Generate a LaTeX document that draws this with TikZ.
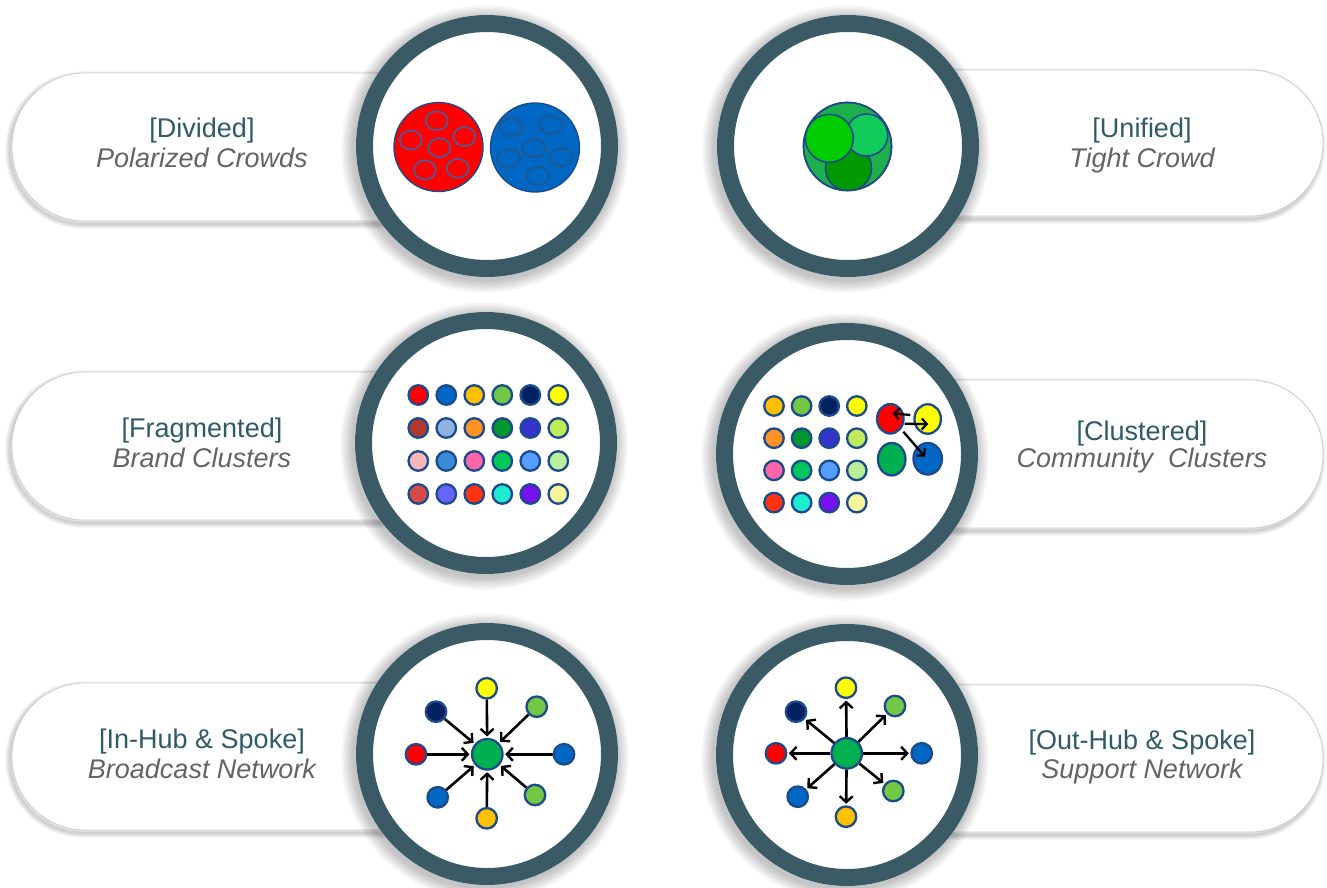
\documentclass[tikz,border=0pt]{standalone}
\usepackage{fontspec}
\setmainfont{Liberation Sans}
\usetikzlibrary{arrows.meta,shapes.geometric,calc}

% frame and text colours
\definecolor{ringclr}{RGB}{58,90,102}
\definecolor{titleclr}{RGB}{47,90,104}
\definecolor{subclr}{RGB}{100,100,100}
\definecolor{pillline}{RGB}{205,205,205}
\definecolor{dotline}{RGB}{28,74,138}
% dot colours
\definecolor{cRed}{HTML}{FF0000}
\definecolor{cBlue}{HTML}{0068C4}
\definecolor{cGold}{HTML}{FFC000}
\definecolor{cLime}{HTML}{70C844}
\definecolor{cNavy}{HTML}{002060}
\definecolor{cYel}{HTML}{FFFF00}
\definecolor{cBrick}{HTML}{B03A2E}
\definecolor{cSteel}{HTML}{8DB4E2}
\definecolor{cOrange}{HTML}{FF9326}
\definecolor{cDkGrn}{HTML}{009630}
\definecolor{cIndigo}{HTML}{3333CC}
\definecolor{cYgrn}{HTML}{C1EC5A}
\definecolor{cPinkL}{HTML}{F4B6B6}
\definecolor{cMidBlue}{HTML}{3A8BD8}
\definecolor{cHotPink}{HTML}{FF66AA}
\definecolor{cGreen}{HTML}{00C85A}
\definecolor{cSky}{HTML}{559DFF}
\definecolor{cPaleGrn}{HTML}{BBEE99}
\definecolor{cSalmon}{HTML}{D84A4A}
\definecolor{cPeri}{HTML}{6666FF}
\definecolor{cRedOr}{HTML}{FF3311}
\definecolor{cAqua}{HTML}{1EEBD0}
\definecolor{cViolet}{HTML}{7711EE}
\definecolor{cPaleYel}{HTML}{F5F599}
\definecolor{cHub}{HTML}{00B050}
\definecolor{gMid}{HTML}{1EAE4C}
\definecolor{gDark}{HTML}{009900}
\definecolor{gMint}{HTML}{11CC5A}
\definecolor{gBright}{HTML}{00CC00}
\definecolor{edgeRed}{RGB}{72,92,150}
\definecolor{edgeBlue}{RGB}{35,85,140}

\tikzset{
  title/.style={anchor=base, text=titleclr, font=\fontsize{27}{32}\selectfont},
  subtitle/.style={anchor=base, text=subclr, font=\fontsize{27}{32}\selectfont\itshape},
  dot/.style={circle, draw=dotline, line width=2.3pt, minimum size=19.5pt, inner sep=0pt, fill=#1},
  sat/.style={circle, draw=dotline, line width=2.3pt, minimum size=20.5pt, inner sep=0pt, fill=#1},
  hub/.style={circle, draw=dotline, line width=2.3pt, minimum size=30.5pt, inner sep=0pt, fill=cHub},
  blob/.style={ellipse, draw=dotline, line width=2.3pt, minimum width=26.5pt, minimum height=29.5pt, inner sep=0pt, fill=#1},
  crowd/.style={circle, draw=dotline, line width=1.4pt, minimum size=89pt, inner sep=0pt, fill=#1},
  arr/.style={-{Straight Barb[length=6pt,width=13pt,line width=2.4pt]}, line width=2.6pt, black, shorten >=1.5pt},
  smallarr/.style={-{Straight Barb[length=5pt,width=11pt,line width=2.2pt]}, line width=2.3pt, black},
}

% a rounded label band with a soft shadow
\newcommand\pill[4]{%
  \foreach \i in {1,...,6}
    \draw[black, opacity=0.032, line width={1.6pt*\i}, rounded corners=73pt]
      ($(#1,#2)+(-2,3)$) rectangle ($(#3,#4)+(-2,3)$);
  \filldraw[fill=white, draw=pillline, line width=0.8pt, rounded corners=73pt]
    (#1,#2) rectangle (#3,#4);
}
% a round frame with a soft shadow
\newcommand\frameat[1]{%
  \foreach \i in {1,...,10}
    \fill[black, opacity=0.022] ($(#1)+(-2,3)$) circle ({131+1.3*\i});
  \fill[white] (#1) circle (131);
  \draw[ringclr, line width=17pt] (#1) circle (122.5);
}

\begin{document}
\begin{tikzpicture}[x=1pt, y=-1pt]
\clip (0,0) rectangle (1327,888);
\fill[white] (0,0) rectangle (1327,888);

% label bands
\pill{12}{73}{480}{221}
\pill{850}{70}{1323}{216}
\pill{12}{372}{480}{520}
\pill{850}{380}{1323}{528}
\pill{12}{683}{480}{830}
\pill{850}{685}{1323}{832}

% frames
\coordinate (c1) at (487,146);
\coordinate (c2) at (848,146);
\coordinate (c3) at (486,443);
\coordinate (c4) at (847,454);
\coordinate (c5) at (487,754);
\coordinate (c6) at (847,755);
\foreach \c in {c1,c2,c3,c4,c5,c6} {\frameat{\c}}

% ---- Divided: two polarized crowds
\node[crowd=cRed] (redcrowd) at (438.5,147) {};
\node[crowd=cBlue] (bluecrowd) at (535,147.5) {};
\foreach \p in {(436.7,120.7),(410.7,140),(464.3,136.7),(439.3,147.7),(425,170),(457.7,168.3)}
  \draw[edgeRed, line width=1.7pt] \p ellipse (11 and 9.5);
\foreach \p in {(511,127.3),(551,125),(534,148.3),(509,158.3),(561,157.3),(537.7,176)}
  \draw[edgeBlue, line width=1.7pt] \p ellipse (11.5 and 9);

% ---- Unified: one tight crowd
\node[circle, minimum size=88pt, inner sep=0pt, fill=gMid, draw=dotline, line width=1.6pt] (tight) at (847.5,146.5) {};
\begin{scope}
  \clip (847.5,146.5) circle (44);
  \filldraw[fill=gDark, draw=dotline, line width=1.6pt] (848.5,168) circle (23);
  \filldraw[fill=gMint, draw=dotline, line width=1.6pt] (866.7,135) circle (21);
  \filldraw[fill=gBright, draw=dotline, line width=1.6pt] (829.3,138.3) circle (24);
\end{scope}
\draw[dotline, line width=1.6pt] (847.5,146.5) circle (44);

% ---- Fragmented: brand clusters
\foreach \col [count=\k from 0] in {cRed,cBlue,cGold,cLime,cNavy,cYel,
    cBrick,cSteel,cOrange,cDkGrn,cIndigo,cYgrn,
    cPinkL,cMidBlue,cHotPink,cGreen,cSky,cPaleGrn,
    cSalmon,cPeri,cRedOr,cAqua,cViolet,cPaleYel} {
  \pgfmathtruncatemacro\cx{mod(\k,6)}
  \pgfmathtruncatemacro\ry{div(\k,6)}
  \node[dot=\col] (f\k) at ({418.3+28*\cx},{395+33*\ry}) {};
}

% ---- Clustered: community clusters
\foreach \col [count=\k from 0] in {cGold,cLime,cNavy,cYel,
    cOrange,cDkGrn,cIndigo,cYgrn,
    cHotPink,cGreen,cSky,cPaleGrn,
    cRedOr,cAqua,cViolet,cPaleYel} {
  \pgfmathtruncatemacro\cx{mod(\k,4)}
  \pgfmathtruncatemacro\ry{div(\k,4)}
  \node[dot=\col] (g\k) at ({774+27.6*\cx},{406+32.2*\ry}) {};
}
\node[blob=cRed] (cr) at (890.3,418.8) {};
\node[blob=cYel] (cy) at (927.7,419) {};
\node[blob=cHub, minimum width=27.5pt, minimum height=32.5pt] (cg) at (891.7,459.2) {};
\node[blob=cBlue, minimum width=28.5pt, minimum height=31.5pt] (cb) at (927.7,458.8) {};
\draw[smallarr] ([shift={(-3,-4)}]cy.west) -- ([shift={(2.4,-5.5)}]cr.center);
\draw[smallarr] ([shift={(0,5)}]cr.east) -- ([shift={(0.6,5)}]cy.center);
\draw[smallarr] ([shift={(13,12.9)}]cr.center) -- ([shift={(-2.7,-2.1)}]cb.center);

% ---- In-hub and spoke: broadcast network
\node[hub] (ih) at (487.3,754.3) {};
\node[sat=cYel]  (i1) at (486.7,688.3) {};
\node[sat=cLime] (i2) at (536.7,706.7) {};
\node[sat=cNavy] (i3) at (436,711.7) {};
\node[sat=cRed]  (i4) at (416,754.3) {};
\node[sat=cBlue] (i5) at (564,754.3) {};
\node[sat=cBlue] (i6) at (437.7,797.3) {};
\node[sat=cLime] (i7) at (535,795) {};
\node[sat=cGold] (i8) at (486.7,818.3) {};
\foreach \s in {i1,i2,i3,i4,i5,i6,i7,i8}
  \draw[arr] (\s) -- (ih);

% ---- Out-hub and spoke: support network
\node[hub] (oh) at (846.7,753.3) {};
\node[sat=cYel]  (o1) at (846,687.7) {};
\node[sat=cLime] (o2) at (895,706) {};
\node[sat=cNavy] (o3) at (796,711.7) {};
\node[sat=cRed]  (o4) at (776,753.3) {};
\node[sat=cBlue] (o5) at (921.7,753.3) {};
\node[sat=cBlue] (o6) at (797.7,796.7) {};
\node[sat=cLime] (o7) at (893.3,791) {};
\node[sat=cGold] (o8) at (846,816.7) {};
\foreach \s in {o1,o2,o3,o4,o5,o6,o7,o8}
  \draw[arr] (oh) -- (\s);

% ---- labels
\node[title]    (t1) at (202,138) {[Divided]};
\node[subtitle] (s1) at (202,167) {Polarized Crowds};
\node[title]    (t2) at (1142,137) {[Unified]};
\node[subtitle] (s2) at (1142,167) {Tight Crowd};
\node[title]    (t3) at (202,437) {[Fragmented]};
\node[subtitle] (s3) at (202,467) {Brand Clusters};
\node[title]    (t4) at (1142,440) {[Clustered]};
\node[subtitle] (s4) at (1142,467) {Community\ \ Clusters};
\node[title]    (t5) at (202,748) {[In-Hub \& Spoke]};
\node[subtitle] (s5) at (202,778) {Broadcast Network};
\node[title]    (t6) at (1142,749) {[Out-Hub \& Spoke]};
\node[subtitle] (s6) at (1142,778) {Support Network};
\end{tikzpicture}
\end{document}
